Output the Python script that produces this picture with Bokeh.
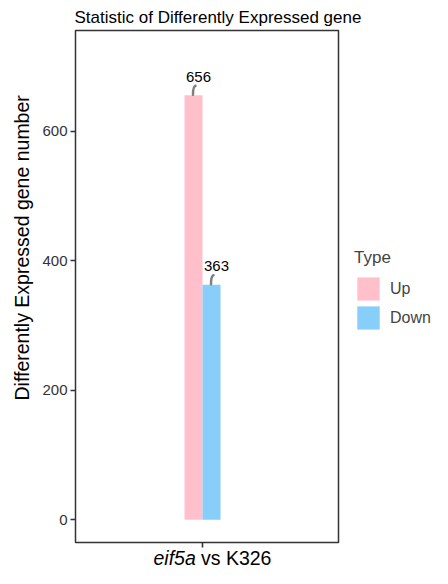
import numpy as np
from bokeh.plotting import figure
from bokeh.layouts import row, column
from bokeh.models import (Range1d, FixedTicker, Legend, LegendItem, ColumnDataSource,
                          Title, Label)
from bokeh.embed import file_html
from bokeh.resources import INLINE
from bokeh.core.properties import value

# ---- data ----
comparison = ["eif5a vs K326"]
types = ["Up", "Down"]
counts = [656, 363]
colors = ["#FFC0CB", "#87CEFA"]
y_ticks = [0, 200, 400, 600]
chart_title = "Statistic of Differently Expressed gene"
y_title = "Differently Expressed gene number"
legend_title = "Type"

FONT = "Liberation Sans"
TEXT_SHIFT = 5.5           # empirical baseline correction for labels

# page geometry (pixels)
W, H = 432, 568
TOP_H = 29                 # title strip
MAIN_W = 340
MAIN_H = 519               # page y 29 .. 548
XL_H = H - TOP_H - MAIN_H  # x-title strip
LEG_W = W - MAIN_W
F_LEFT, F_RIGHT = 75, 338
F_TOP, F_BOTTOM = 30, 542  # page y
TICK_X = 202

frame_w = F_RIGHT - F_LEFT
PX_X = frame_w / 1.2
x_lo = 1 - (TICK_X - F_LEFT) / PX_X
x_hi = x_lo + 1.2
y_lo, y_hi = -35.2, 756
PX_Y = (F_BOTTOM - F_TOP) / (y_hi - y_lo)


def strip(width, height):
    f = figure(width=width, height=height, output_backend="svg", toolbar_location=None,
               x_range=Range1d(0, width), y_range=Range1d(0, height),
               x_axis_location=None, y_axis_location=None, min_border=0)
    f.title.visible = False
    f.outline_line_color = None
    f.xgrid.visible = False
    f.ygrid.visible = False
    f.border_fill_color = "white"
    return f


# ---- title strip ----
pt = strip(W, TOP_H)
pt.add_layout(Label(x=74, y=TOP_H - 22 + TEXT_SHIFT, text=chart_title, text_font=FONT,
                    text_font_size="17px", text_color="black",
                    text_align="left", text_baseline="alphabetic"))

# ---- main plot ----
p = figure(width=MAIN_W, height=MAIN_H, output_backend="svg", toolbar_location=None,
           x_range=Range1d(x_lo, x_hi), y_range=Range1d(y_lo, y_hi),
           min_border_left=F_LEFT, min_border_right=MAIN_W - F_RIGHT,
           min_border_top=F_TOP - TOP_H,
           min_border_bottom=TOP_H + MAIN_H - F_BOTTOM)
p.title.visible = False
p.background_fill_color = "white"
p.border_fill_color = "white"
p.outline_line_color = "#333333"
p.outline_line_width = 1.5
p.xgrid.visible = False
p.ygrid.visible = False

bar_w = 18 / PX_X
xs = [1 - bar_w / 2, 1 + bar_w / 2]
src = ColumnDataSource(dict(x=xs, top=counts, color=colors, type=types,
                            label=[str(c) for c in counts]))
r = p.vbar(x="x", top="top", bottom=0, width=bar_w, fill_color="color",
           line_color=None, source=src)

# connectors (small curved segments from bar top to label)
dx = 1 / PX_X
dy = 1 / PX_Y
tops = np.array(counts, dtype=float)
cx = np.array(xs) - 0.5 * dx
p.bezier(x0=cx, y0=tops + 0.5 * dy, x1=cx + 2.5 * dx, y1=tops + 9.5 * dy,
         cx0=cx, cy0=tops + 6 * dy, cx1=cx + 0.5 * dx, cy1=tops + 9 * dy,
         line_color="#7f7f7f", line_width=2.5, line_cap="round")

p.text(x="x", y="top", text="label", source=src, x_offset=5, y_offset=-18.5,
       text_align="center", text_baseline="alphabetic",
       text_font=value(FONT), text_font_size="15px", text_color="black")

p.yaxis.ticker = FixedTicker(ticks=y_ticks)
p.yaxis.major_label_text_font = FONT
p.yaxis.major_label_text_font_size = "15px"
p.yaxis.major_label_text_color = "#333333"
p.yaxis.major_label_standoff = 3
p.xaxis.ticker = FixedTicker(ticks=[1])
p.xaxis.major_label_overrides = {1: ""}
p.xaxis.major_label_text_font_size = "0px"
p.xaxis.major_label_standoff = 0
for ax in (p.xaxis, p.yaxis):
    ax.axis_line_color = None
    ax.major_tick_out = 5
    ax.major_tick_in = 0
    ax.minor_tick_line_color = None
    ax.major_tick_line_color = "#333333"
    ax.major_tick_line_width = 1.6

p.add_layout(Title(text=y_title, align="left", offset=F_BOTTOM - 400,
                   standoff=14, text_font=FONT, text_font_size="19.5px",
                   text_font_style="normal", text_color="black"), "left")

# ---- legend strip ----
pl = figure(width=LEG_W, height=MAIN_H, output_backend="svg", toolbar_location=None,
            x_range=Range1d(10, 11), y_range=Range1d(10000, 10001),
            x_axis_location=None, y_axis_location=None, min_border=0)
pl.title.visible = False
pl.outline_line_color = None
pl.xgrid.visible = False
pl.ygrid.visible = False
rl = pl.vbar(x="x", top="top", bottom=0, width=bar_w, fill_color="color",
             line_color=None, source=src)
legend = Legend(items=[LegendItem(label=types[i], renderers=[rl], index=i)
                       for i in range(len(types))],
                title=legend_title, location=(14, MAIN_H - (338 - TOP_H)))
legend.title_text_font = FONT
legend.title_text_font_size = "17px"
legend.title_text_font_style = "normal"
legend.title_standoff = 6
legend.label_text_font = FONT
legend.label_text_font_size = "16px"
legend.glyph_width = 28
legend.glyph_height = 29
legend.label_standoff = 8
legend.spacing = 0
legend.padding = 0
legend.margin = 0
legend.border_line_color = None
legend.background_fill_alpha = 0
pl.add_layout(legend)

# ---- x title strip (italic gene name) ----
px = strip(W, XL_H)
italic_part, plain_part = comparison[0].split(" ", 1)
base_y = H - 563 + TEXT_SHIFT
px.add_layout(Label(x=153, y=base_y, text=italic_part, text_font=FONT,
                    text_font_style="italic", text_font_size="19.5px", text_color="black",
                    text_align="left", text_baseline="alphabetic"))
px.add_layout(Label(x=200.5, y=base_y, text=plain_part, text_font=FONT,
                    text_font_size="19.5px", text_color="black",
                    text_align="left", text_baseline="alphabetic"))

layout = column(pt, row(p, pl, spacing=0), px, spacing=0)
open("out.html", "w").write(file_html(layout, INLINE))
